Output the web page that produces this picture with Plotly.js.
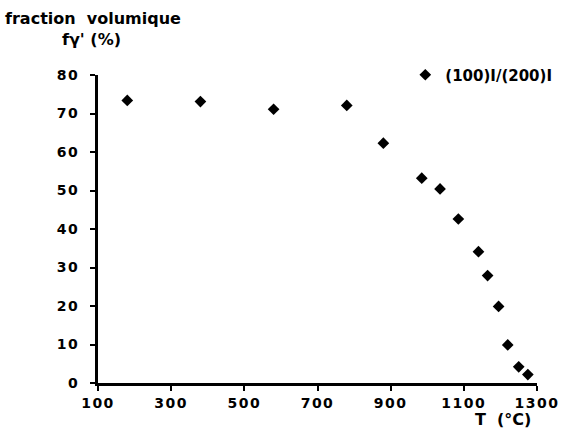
<!DOCTYPE html>
<html>
<head>
<meta charset="utf-8">
<script src="https://cdn.plot.ly/plotly-3.0.1.min.js"></script>
<style>html,body{margin:0;padding:0;background:#fff;}#chart{width:570px;height:434px;}
#chart .xtick text, #chart .ytick text{letter-spacing:1.5px;}</style>
</head>
<body>
<div id="chart"></div>
<script>
var temperature = [180, 380, 580, 780, 880, 985, 1035, 1085, 1140, 1165, 1195, 1220, 1250, 1275];
var fraction = [73.4, 73.1, 71.1, 72.1, 62.3, 53.2, 50.4, 42.6, 34.1, 27.9, 19.9, 9.9, 4.2, 2.2];
var xTicks = [100, 300, 500, 700, 900, 1100, 1300];
var yTicks = [0, 10, 20, 30, 40, 50, 60, 70, 80];
var seriesName = "(100)I/(200)I";

var fontFam = "DejaVu Sans, sans-serif";
var trace = {
  x: temperature, y: fraction, mode: "markers", type: "scatter", name: seriesName,
  marker: {symbol: "diamond", size: 9, color: "#000"}
};
var layout = {
  width: 570, height: 434,
  margin: {l: 98, r: 33, t: 75, b: 51},
  paper_bgcolor: "#fff", plot_bgcolor: "#fff",
  font: {family: fontFam, size: 14, color: "#000", weight: "bold"},
  showlegend: true,
  legend: {x: 0.70, y: 1.0, xanchor: "left", yanchor: "middle", bgcolor: "rgba(0,0,0,0)",
           font: {family: fontFam, size: 15, color: "#000", weight: "bold"}, itemwidth: 30},
  xaxis: {range: [100, 1300], tickvals: xTicks, ticktext: xTicks.map(String),
          showgrid: false, zeroline: false, showline: true, linecolor: "#000", linewidth: 3,
          ticks: "outside", ticklen: 5, tickwidth: 2, tickcolor: "#000",
          tickfont: {family: fontFam, size: 14, weight: "bold"}},
  yaxis: {range: [0, 80], tickvals: yTicks, ticktext: yTicks.map(String),
          showgrid: false, zeroline: false, showline: true, linecolor: "#000", linewidth: 3,
          ticks: "outside", ticklen: 5, tickwidth: 2, tickcolor: "#000", ticklabelstandoff: 8,
          tickfont: {family: fontFam, size: 14, weight: "bold"}},
  annotations: [
    {text: "fraction  volumique", xref: "paper", yref: "paper", x: -0.2164, y: 1.185, xanchor: "left", yanchor: "middle",
     showarrow: false, font: {family: fontFam, size: 16, weight: "bold"}},
    {text: "fγ' (%)", xref: "paper", yref: "paper", x: -0.014, y: 1.114, xanchor: "center", yanchor: "middle",
     showarrow: false, font: {family: fontFam, size: 16, weight: "bold"}},
    {text: "T  (°C)", xref: "paper", yref: "paper", x: 0.922, y: -0.12, xanchor: "center", yanchor: "middle",
     showarrow: false, font: {family: fontFam, size: 16, weight: "bold"}}
  ]
};
Plotly.newPlot("chart", [trace], layout, {staticPlot: true});
</script>
</body>
</html>
